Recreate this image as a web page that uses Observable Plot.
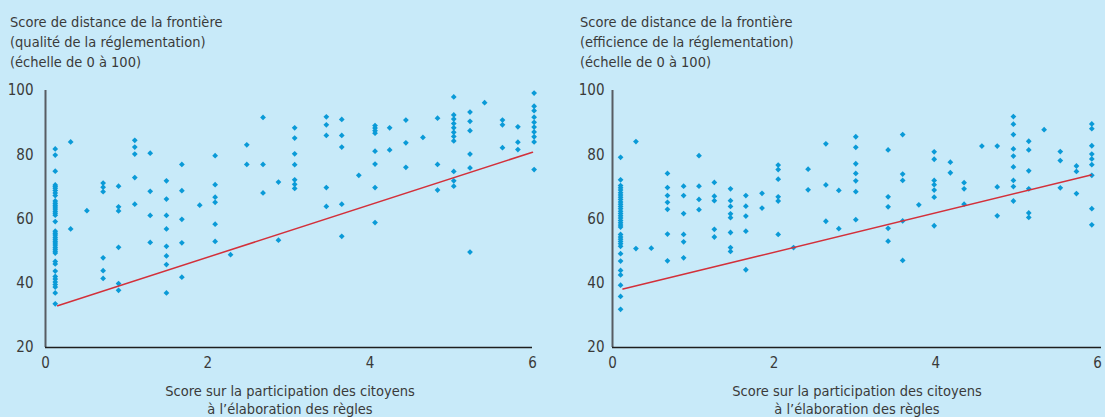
<!DOCTYPE html>
<html><head><meta charset="utf-8">
<script src="https://cdn.jsdelivr.net/npm/d3@7"></script>
<script src="https://cdn.jsdelivr.net/npm/@observablehq/plot@0.6"></script>
<style>
html,body{margin:0;padding:0;background:#c8eaf9;}
#wrap{position:relative;width:1105px;height:417px;overflow:hidden;background:#c8eaf9;font-family:"Liberation Sans Narrow","DejaVu Sans Condensed","Arial Narrow",sans-serif;color:#3a3a3a;}
.ttl{position:absolute;font-size:14.5px;line-height:20px;white-space:nowrap;}
.xl{position:absolute;font-size:14.5px;line-height:18px;text-align:center;white-space:nowrap;}
svg{position:absolute;top:0;}
</style></head>
<body><div id="wrap">
<div class="ttl" style="left:10px;top:12px">Score de distance de la frontière<br>(qualité de la réglementation)<br>(échelle de 0 à 100)</div>
<div class="ttl" style="left:580px;top:12px">Score de distance de la frontière<br>(efficience de la réglementation)<br>(échelle de 0 à 100)</div>
<div class="xl" style="left:45px;width:490px;top:382px">Score sur la participation des citoyens<br>à l’élaboration des règles</div>
<div class="xl" style="left:612px;width:490px;top:382px">Score sur la participation des citoyens<br>à l’élaboration des règles</div>
</div>
<script>
const xTicks = [0, 2, 4, 6];
const yTicks = [20, 40, 60, 80, 100];

const leftX = [0.12,0.31,0.51,0.71,0.90,1.10,1.29,1.49,1.68,1.90,2.09,2.28,2.48,2.68,2.87,3.07,3.46,3.65,3.86,4.06,4.24,4.44,4.65,4.83,5.03,5.23,5.41,5.63,5.82,6.02];
const leftY = [
 [81.8,79.9,74.9,70.6,70.1,69.6,68.9,68.1,67.3,65.6,64.9,64.3,63.7,63.1,62.4,61.8,61.2,59.2,56.2,55.6,55.0,54.3,53.7,53.1,52.5,51.9,51.2,50.6,50.0,49.4,46.8,46.0,43.8,42.1,41.3,40.4,39.6,38.8,37.0,33.6],
 [84.0,56.9],
 [62.6],
 [71.2,69.9,68.5,47.9,43.9,41.5],
 [70.2,63.8,62.5,51.2,39.9,37.8],
 [84.5,82.4,80.2,72.9,64.6],
 [80.5,68.6,61.1,52.7],
 [71.9,66.2,61.1,56.9,51.5,48.5,45.8,37.0],
 [77.0,68.8,59.9,52.6,41.9],
 [64.3],
 [79.7,70.7,66.8,65.2,58.4,53.0],
 [48.9],
 [83.1,77.0],
 [91.6,77.0,68.1],
 [71.5,53.4],
 [88.4,85.2,80.3,76.9,72.2,70.8,69.5],
 [91.8,89.3,86.0,69.8,63.9],
 [91.0,86.0,82.4,64.6,54.6],
 [73.6],
 [89.1,88.3,87.5,86.7,81.1,77.1,69.8,58.9],
 [88.4,81.5],
 [90.8,83.7,76.1],
 [85.4],
 [91.4,77.0,69.0],
 [98.0,92.4,91.1,89.7,88.4,87.0,85.7,84.3,74.8,71.9,70.2],
 [93.3,90.4,87.5,80.2,75.9,49.7],
 [96.2],
 [90.8,89.3,82.2],
 [88.7,83.9,81.6],
 [99.2,95.1,93.7,91.7,90.1,88.6,87.1,85.6,84.0,75.4]
];
const leftFitX = [0.15, 6.0];
const leftFitY = [33.0, 80.8];

const rightX = [0.10,0.29,0.48,0.68,0.88,1.07,1.26,1.46,1.65,1.85,2.05,2.24,2.42,2.64,2.80,3.01,3.41,3.59,3.79,3.98,4.18,4.35,4.57,4.76,4.96,5.15,5.34,5.54,5.74,5.93];
const rightY = [
 [79.2,72.2,70.4,69.7,69.0,68.2,67.5,66.8,66.1,65.3,64.6,63.9,63.2,62.4,61.7,61.0,60.3,59.5,58.8,58.1,57.5,55.2,54.4,53.7,53.0,52.3,51.5,49.2,46.9,44.0,42.6,39.4,35.9,31.9],
 [84.1,50.8],
 [50.9],
 [74.2,69.8,67.3,65.2,63.0,55.3,47.0],
 [70.2,67.3,61.7,55.2,52.9,47.9],
 [79.7,70.2,66.1,62.9],
 [71.4,67.1,65.7,56.8,54.4],
 [69.4,65.7,63.9,61.6,60.4,55.8,51.1,49.9],
 [67.3,64.0,60.9,56.2,44.2],
 [68.0,63.4],
 [76.8,75.4,72.4,66.9,65.6,55.2],
 [51.1],
 [75.5,69.1],
 [83.4,70.6,59.3],
 [68.9,57.0],
 [85.6,82.3,77.2,74.2,71.9,68.5,59.8],
 [81.5,66.9,63.8,57.1,53.1],
 [86.3,74.0,72.0,59.4,47.1],
 [64.4],
 [80.9,78.6,72.0,70.7,69.0,66.8,57.9],
 [77.7,74.4],
 [71.3,69.4,64.6],
 [82.7],
 [82.7,70.0,61.0],
 [91.9,89.5,86.3,81.8,79.6,76.2,72.0,70.1,65.6],
 [84.2,81.5,75.0,69.4,61.9,60.5],
 [87.8],
 [81.0,78.2,69.7],
 [76.5,74.8,67.9],
 [89.6,88.1,82.8,80.2,78.7,76.9,73.6,63.2,58.2]
];
const rightFitX = [0.13, 5.92];
const rightFitY = [38.2, 73.7];

function panel({xs, ys, fitX, fitY, left, width, marginLeft, marginRight, xDomain, yPad}) {
  const pts = xs.flatMap((x, i) => ys[i].map(y => ({x, y})));
  const fit = fitX.map((x, i) => ({x, y: fitY[i]}));
  const svg = Plot.plot({
    width, height: 417,
    marginLeft, marginRight, marginTop: 90, marginBottom: 70,
    x: {domain: xDomain},
    y: {domain: [20, 100]},
    style: {background: "transparent", fontFamily: '"Liberation Sans Narrow","DejaVu Sans Condensed",sans-serif', fontSize: "15px", color: "#3a3a3a", overflow: "visible"},
    marks: [
      Plot.axisY({ticks: yTicks, tickFormat: d3.format("d"), tickSize: 0, tickPadding: yPad, label: null, fontSize: 15}),
      Plot.axisX({ticks: xTicks, tickFormat: d3.format("d"), tickSize: 0, tickPadding: 10, label: null, fontSize: 15}),
      Plot.ruleX([0], {stroke: "#575c63", strokeWidth: 2}),
      Plot.ruleY([20], {stroke: "#1e1e1e", strokeWidth: 1.5}),
      Plot.dot(pts, {x: "x", y: "y", symbol: "diamond2", r: 2.6, fill: "#0a9ad7", stroke: "none"}),
      Plot.line(fit, {x: "x", y: "y", stroke: "#d3303a", strokeWidth: 1.5})
    ]
  });
  svg.style.left = left + "px";
  document.getElementById("wrap").appendChild(svg);
}

panel({xs: leftX, ys: leftY, fitX: leftFitX, fitY: leftFitY, left: 0, width: 552, marginLeft: 45, marginRight: 20, xDomain: [0, 6], yPad: 12});
panel({xs: rightX, ys: rightY, fitX: rightFitX, fitY: rightFitY, left: 552, width: 553, marginLeft: 60, marginRight: 4, xDomain: [0, 6.05], yPad: 8});
</script>
</body></html>
